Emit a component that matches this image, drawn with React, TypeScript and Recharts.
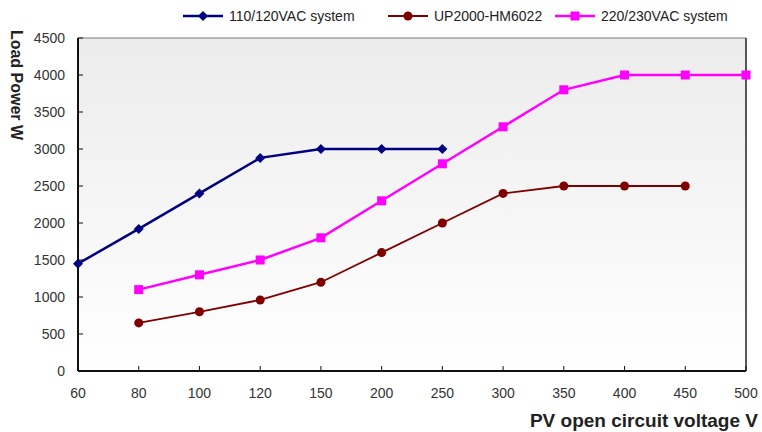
import React from 'react';
import {
  LineChart,
  Line,
  XAxis,
  YAxis,
  CartesianGrid,
  ReferenceLine,
  Label
} from 'recharts';

const voltages = ['60', '80', '100', '120', '150', '200', '250', '300', '350', '400', '450', '500'];
const sys110 = [1450, 1920, 2400, 2880, 3000, 3000, 3000, null, null, null, null, null];
const up2000 = [null, 650, 800, 960, 1200, 1600, 2000, 2400, 2500, 2500, 2500, null];
const sys220 = [null, 1100, 1300, 1500, 1800, 2300, 2800, 3300, 3800, 4000, 4000, 4000];
const yTicks = [0, 500, 1000, 1500, 2000, 2500, 3000, 3500, 4000, 4500];

const SERIES = [
  { key: 'sys110', name: '110/120VAC system', color: '#000080', width: 2.5, shape: 'diamond' },
  { key: 'up2000', name: 'UP2000-HM6022', color: '#800000', width: 1.8, shape: 'circle' },
  { key: 'sys220', name: '220/230VAC system', color: '#ff00ff', width: 2.5, shape: 'square' }
];

const data = voltages.map((v, i) => ({
  v,
  sys110: sys110[i],
  up2000: up2000[i],
  sys220: sys220[i]
}));

const FONT = '"Liberation Sans", Arial, sans-serif';

const Marker = ({ shape, color, cx, cy }: any) => {
  if (shape === 'diamond') {
    return <path d={`M${cx},${cy - 5}L${cx + 5},${cy}L${cx},${cy + 5}L${cx - 5},${cy}Z`} fill={color} />;
  }
  if (shape === 'square') {
    return <rect x={cx - 4.5} y={cy - 4.5} width={9} height={9} fill={color} />;
  }
  return <circle cx={cx} cy={cy} r={4.5} fill={color} />;
};

const makeDot = (shape: string, color: string) => (props: any) => {
  const { cx, cy, index, value } = props;
  if (cy == null || value == null || isNaN(cy)) return <g key={index} />;
  return (
    <g key={index}>
      <Marker shape={shape} color={color} cx={cx} cy={cy} />
    </g>
  );
};

const legendLeft = [183, 388, 555];

export default function App() {
  return (
    <div style={{ position: 'absolute', left: 0, top: 0, width: 762, height: 432, background: '#fff' }}>
      {SERIES.map((s, i) => (
        <div
          key={s.key}
          style={{
            position: 'absolute',
            left: legendLeft[i],
            top: 8,
            display: 'flex',
            alignItems: 'center',
            fontFamily: FONT,
            fontSize: 14,
            color: '#222'
          }}
        >
          <svg width={42} height={16}>
            <line x1={0} y1={8} x2={40} y2={8} stroke={s.color} strokeWidth={s.width} />
            <Marker shape={s.shape} color={s.color} cx={20} cy={8} />
          </svg>
          <span style={{ marginLeft: 4 }}>{s.name}</span>
        </div>
      ))}
      <LineChart
        width={762}
        height={432}
        data={data}
        margin={{ top: 38, right: 16, bottom: 0, left: 0 }}
      >
        <defs>
          <linearGradient id="plotBg" x1="0" y1="0" x2="0" y2="1">
            <stop offset="0%" stopColor="#ececec" />
            <stop offset="100%" stopColor="#ffffff" />
          </linearGradient>
        </defs>
        <CartesianGrid horizontal={false} vertical={false} fill="url(#plotBg)" />
        <XAxis
          dataKey="v"
          height={61}
          axisLine={{ stroke: '#111', strokeWidth: 2 }}
          tickLine={{ stroke: '#111' }}
          tickSize={-5}
          tickMargin={22}
          tick={{ fill: '#333', fontSize: 14, fontFamily: FONT }}
          interval={0}
        >
          <Label
            content={() => (
              <text x={758} y={427} textAnchor="end" fontFamily={FONT} fontWeight="bold" fontSize={19} fill="#222">
                PV open circuit voltage V
              </text>
            )}
          />
        </XAxis>
        <YAxis
          width={78}
          domain={[0, 4500]}
          ticks={yTicks}
          axisLine={{ stroke: '#111', strokeWidth: 2 }}
          tickLine={{ stroke: '#111' }}
          tickSize={-5}
          tickMargin={18}
          tick={{ fill: '#333', fontSize: 14, fontFamily: FONT }}
          interval={0}
        >
          <Label
            content={() => (
              <text
                x={11}
                y={85}
                transform="rotate(90, 11, 85)"
                textAnchor="middle"
                fontFamily={FONT}
                fontWeight="bold"
                fontSize={16}
                fill="#222"
              >
                Load Power W
              </text>
            )}
          />
        </YAxis>
        <ReferenceLine y={4500} stroke="#777" strokeWidth={1} />
        <ReferenceLine x="500" stroke="#222" strokeWidth={1.5} />
        {SERIES.map((s) => (
          <Line
            key={s.key}
            dataKey={s.key}
            name={s.name}
            stroke={s.color}
            strokeWidth={s.width}
            dot={makeDot(s.shape, s.color)}
            activeDot={false}
            isAnimationActive={false}
          />
        ))}
      </LineChart>
    </div>
  );
}
